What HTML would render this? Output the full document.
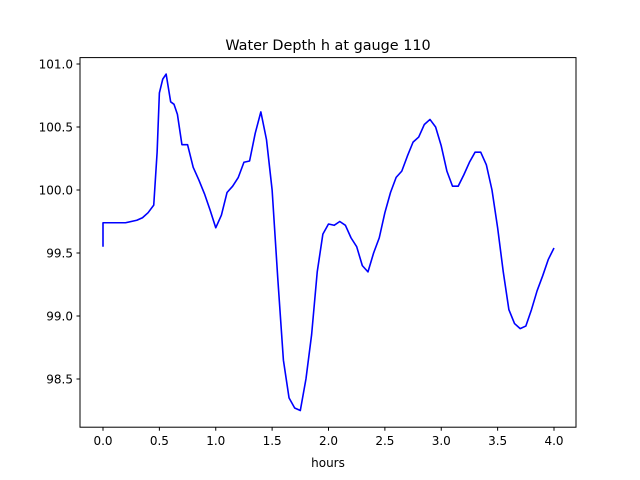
<!DOCTYPE html>
<html><head><meta charset="utf-8"><style>body{margin:0;background:#fff}svg{display:block;font-family:"DejaVu Sans","Liberation Sans",sans-serif}</style></head>
<body>
<svg id="chart" width="640" height="480" xmlns="http://www.w3.org/2000/svg">
<rect width="640" height="480" fill="#fff"/>
<text x="328" y="50" font-size="14.4" text-anchor="middle">Water Depth h at gauge 110</text>
<text x="328" y="467" font-size="12" text-anchor="middle">hours</text>
<g id="plot"></g>
<rect x="80" y="57.6" width="496" height="369.6" fill="none" stroke="#000" stroke-width="1"/>
</svg>
<script>
const xs=[0,0,0.2,0.3,0.35,0.4,0.45,0.48,0.5,0.53,0.56,0.6,0.63,0.66,0.7,0.75,0.8,0.85,0.9,0.95,1.0,1.05,1.1,1.15,1.2,1.25,1.3,1.35,1.4,1.45,1.5,1.55,1.6,1.65,1.7,1.75,1.8,1.85,1.9,1.95,2.0,2.05,2.1,2.15,2.2,2.25,2.3,2.35,2.4,2.45,2.5,2.55,2.6,2.65,2.7,2.75,2.8,2.85,2.9,2.95,3.0,3.05,3.1,3.15,3.2,3.25,3.3,3.35,3.4,3.45,3.5,3.55,3.6,3.65,3.7,3.75,3.8,3.85,3.9,3.95,4.0];
const ys=[99.55,99.74,99.74,99.76,99.78,99.82,99.88,100.3,100.77,100.88,100.92,100.7,100.68,100.6,100.36,100.36,100.18,100.08,99.97,99.84,99.7,99.8,99.98,100.03,100.1,100.22,100.23,100.45,100.62,100.4,100.0,99.3,98.65,98.35,98.27,98.25,98.5,98.85,99.35,99.65,99.73,99.72,99.75,99.72,99.62,99.55,99.4,99.35,99.5,99.62,99.82,99.98,100.1,100.15,100.27,100.38,100.42,100.52,100.56,100.5,100.35,100.15,100.03,100.03,100.12,100.22,100.3,100.3,100.2,100.0,99.7,99.35,99.05,98.94,98.9,98.92,99.05,99.2,99.32,99.45,99.54];
const xTicks=[0,0.5,1,1.5,2,2.5,3,3.5,4];
const yTicks=[98.5,99,99.5,100,100.5,101];
const X=v=>103+v*112.75, Y=v=>64+(101-v)*126;
const g=document.getElementById('plot'),NS='http://www.w3.org/2000/svg';
function mk(t,a){const e=document.createElementNS(NS,t);for(const k in a)e.setAttribute(k,a[k]);g.appendChild(e);return e;}
xTicks.forEach(v=>{const l=mk('line',{x1:X(v),x2:X(v),y1:427.2,y2:430.7,stroke:'#000'});


const t=mk('text',{x:X(v),y:445,'font-size':12,'text-anchor':'middle'});t.textContent=v.toFixed(1);

});
yTicks.forEach(v=>{const l=mk('line',{x1:76.5,x2:80,y1:Y(v),y2:Y(v),stroke:'#000'});


const t=mk('text',{x:73,y:Y(v)+4.5,'font-size':12,'text-anchor':'end'});t.textContent=v.toFixed(1);

});
const p=mk('polyline',{points:xs.map((x,i)=>X(x)+','+Y(ys[i])).join(' '),fill:'none',stroke:'#0000ff','stroke-width':1.6,'stroke-linejoin':'round'});


</script>
</body></html>
